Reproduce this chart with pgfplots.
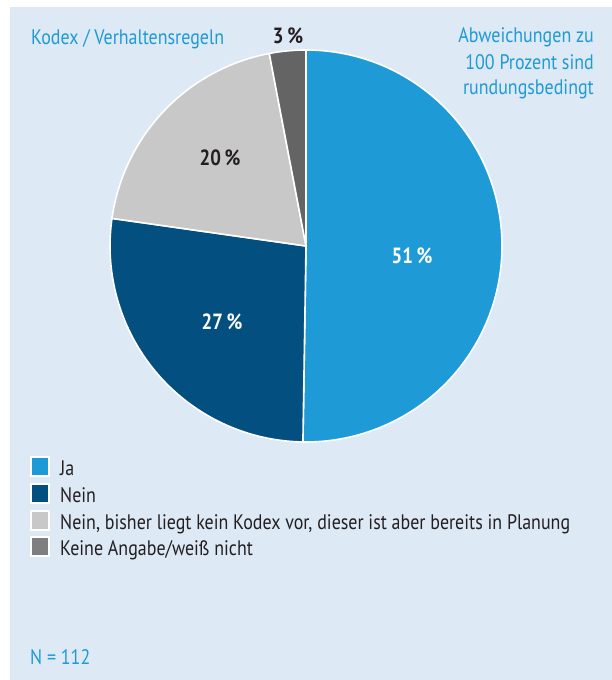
\documentclass[border=0pt]{standalone}
\usepackage{fontspec}
\setmainfont{PT Sans}[FakeStretch=0.855]
\usepackage{pgfplots}
\pgfplotsset{compat=1.18}
\usepackage{pgfplotstable}

\definecolor{bg}{HTML}{DDE9F5}
\definecolor{ja}{HTML}{1E9AD6}
\definecolor{nein}{HTML}{034F7F}
\definecolor{plan}{HTML}{C8C8C8}
\definecolor{ka}{HTML}{646464}
\definecolor{kaleg}{HTML}{7F7F7F}
\definecolor{txt}{HTML}{231F20}

% shares in percent (Ja, Nein, in Planung, keine Angabe)
\pgfplotstableread{
share
50.25
27.0
19.75
3.0
}\piedata
\pgfplotstablegetelem{0}{share}\of\piedata \let\sA\pgfplotsretval
\pgfplotstablegetelem{1}{share}\of\piedata \let\sB\pgfplotsretval
\pgfplotstablegetelem{2}{share}\of\piedata \let\sC\pgfplotsretval
\pgfplotstablegetelem{3}{share}\of\piedata \let\sD\pgfplotsretval
\pgfmathsetmacro\aA{90}
\pgfmathsetmacro\aB{\aA-\sA*3.6}
\pgfmathsetmacro\aC{\aB-\sB*3.6}
\pgfmathsetmacro\aD{\aC-\sC*3.6}
\pgfmathsetmacro\aE{\aD-\sD*3.6}

\newcommand\f{\fontsize{21pt}{25pt}\selectfont}
\newcommand\fb{\fontsize{22pt}{26pt}\selectfont\bfseries}
\tikzset{lab/.style={inner sep=0pt,font=\f}}

\begin{document}
\begin{tikzpicture}
\begin{axis}[x=1pt,y=1pt,xmin=0,xmax=612,ymin=0,ymax=680,
  hide axis,scale only axis,clip=false]
\fill[white] (axis cs:0,0) rectangle (axis cs:612,680);
\fill[bg] (axis cs:10,0) rectangle (axis cs:612,673);
% pie
\filldraw[fill=ja,draw=white,line width=1.6pt] (axis cs:306,434) -- ++(\aA:196pt) arc[start angle=\aA,end angle=\aB,radius=196pt] -- cycle;
\filldraw[fill=nein,draw=white,line width=1.6pt] (axis cs:306,434) -- ++(\aB:196pt) arc[start angle=\aB,end angle=\aC,radius=196pt] -- cycle;
\filldraw[fill=plan,draw=white,line width=1.6pt] (axis cs:306,434) -- ++(\aC:196pt) arc[start angle=\aC,end angle=\aD,radius=196pt] -- cycle;
\filldraw[fill=ka,draw=white,line width=1.6pt] (axis cs:306,434) -- ++(\aD:196pt) arc[start angle=\aD,end angle=\aE,radius=196pt] -- cycle;
% slice labels
\node[lab,anchor=base,text=white,font=\fb] at (axis cs:412,416.5) {51\,\%};
\node[lab,anchor=base,text=white,font=\fb] at (axis cs:222,350.5) {27\,\%};
\node[lab,anchor=base,text=txt,font=\fb] at (axis cs:220,514.5) {20\,\%};
\node[lab,anchor=base,text=txt,font=\fb] at (axis cs:288,636) {3\,\%};
% titles
\node[lab,anchor=base west,text=ja] at (axis cs:31,635) {Kodex / Verhaltensregeln};
\node[lab,anchor=base east,text=ja] at (axis cs:594,637) {Abweichungen zu};
\node[lab,anchor=base east,text=ja] at (axis cs:594,610) {100 Prozent sind};
\node[lab,anchor=base east,text=ja] at (axis cs:594,585) {rundungsbedingt};
% legend
\filldraw[fill=ja,draw=white,line width=2pt] (axis cs:31,223) rectangle (axis cs:49,204);
\filldraw[fill=nein,draw=white,line width=2pt] (axis cs:31,196.2) rectangle (axis cs:49,177.2);
\filldraw[fill=plan,draw=white,line width=2pt] (axis cs:31,169.4) rectangle (axis cs:49,150.4);
\filldraw[fill=kaleg,draw=white,line width=2pt] (axis cs:31,142.6) rectangle (axis cs:49,123.6);
\node[lab,anchor=base west,text=txt] at (axis cs:60,204) {Ja};
\node[lab,anchor=base west,text=txt] at (axis cs:60,177.5) {Nein};
\node[lab,anchor=base west,text=txt] at (axis cs:60,150.8) {Nein, bisher liegt kein Kodex vor, dieser ist aber bereits in Planung};
\node[lab,anchor=base west,text=txt] at (axis cs:60,124) {Keine Angabe/weiß nicht};
\node[lab,anchor=base west,text=ja] at (axis cs:30,15) {N = 112};
\end{axis}
\end{tikzpicture}
\end{document}
